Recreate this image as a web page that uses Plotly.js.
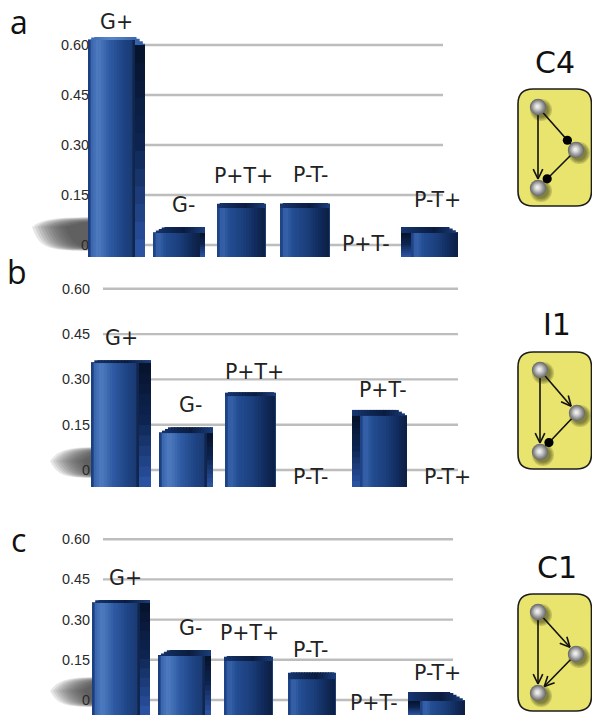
<!DOCTYPE html>
<html><head><meta charset="utf-8">
<script src="https://cdn.plot.ly/plotly-3.0.1.min.js"></script>
<style>html,body{margin:0;padding:0;background:#fff}</style></head>
<body><div id="chart" style="width:592px;height:715px"></div>
<script>
// ---- data ----
const categories = ['G+','G-','P+T+','P-T-','P+T-','P-T+'];
const valuesA = [0.624,0.054,0.126,0.126,0,0.054];
const valuesB = [0.364,0.142,0.258,0,0.199,0];
const valuesC = [0.373,0.187,0.164,0.104,0,0.030];
const tickVals = [0,0.15,0.30,0.45,0.60];
const tickText = ['0','0.15','0.30','0.45','0.60'];
const motifNames = ['C4','I1','C1'];
const panelLetters = ['a','b','c'];

// ---- layout geometry (pixels of the 592x715 page) ----
const W=592,H=715;
const px=x=>x/W, py=y=>1-y/H;
const panels=[
 {values:valuesA,x0:84.5,step:63,yBottom:257,yTop:30,zero:245,scale:333.3,axisX:90,gridL:103,gridR:443,
  outerL:[88,153,217,280,367,401],frontL:[88,153,217,280,367,411],frontR:[135,200,265,329,367,458],outerR:[145,205,266,330,367,458],
  cap:[3,6,5,5,0,6],sideDrop:[8,0,0,0,0,0],
  labels:[[116,22],[183,205],[243,176],[310,175],[366,244],[437,200]],
  shadow:[32,227,217,251],letter:[19,21],name:[555,63]},
 {values:valuesB,x0:89,step:64,yBottom:487,yTop:280,zero:470,scale:302,axisX:91,gridL:103,gridR:458,
  outerL:[91,159,225,313,352,444],frontL:[91,159,225,313,360,444],frontR:[139,207,275,313,407,444],outerR:[151,213,276,313,407,444],
  cap:[3,6,4,0,6,0],sideDrop:[0,0,0,0,0,0],
  labels:[[121,338],[190,405],[254,372],[310,477],[383,390],[447,477]],
  shadow:[50,461,447,478],letter:[17,271],name:[557,324]},
 {values:valuesC,x0:89.5,step:63,yBottom:715,yTop:530,zero:700,scale:268,axisX:91,gridL:103,gridR:453,
  outerL:[92,158,224,288,375,408],frontL:[92,158,224,288,375,420],frontR:[140,205,272,335,375,465],outerR:[150,211,273,336,375,465],
  cap:[3,6,5,7,0,9],sideDrop:[0,0,0,0,0,0],
  labels:[[125,578],[190,628],[249,633],[310,650],[374,703],[437,673]],
  shadow:[50,691,677,707],letter:[18,539],name:[557,567]}
];
const motifs=[
 {top:89,bottom:206,nodes:[[538,107],[576,150],[538,188]],edges:[[0,2,'arrow'],[0,1,'dot'],[1,2,'dot']]},
 {top:352,bottom:469,nodes:[[540,370],[577,413],[540,452]],edges:[[0,2,'arrow'],[0,1,'arrow'],[1,2,'dot']]},
 {top:594,bottom:711,nodes:[[538,612],[576,654],[538,693]],edges:[[0,2,'arrow'],[0,1,'arrow'],[1,2,'arrow']]}
];

// ---- colour ramps for the fake 3D bars ----
const hex=c=>[1,3,5].map(i=>parseInt(c.substr(i,2),16));
function ramp(stops,t){
  for(let i=1;i<stops.length;i++){ if(t<=stops[i][0]){
    const a=stops[i-1],b=stops[i],f=(t-a[0])/(b[0]-a[0]||1),A=hex(a[1]),B=hex(b[1]);
    return 'rgb('+A.map((v,k)=>Math.round(v+(B[k]-v)*f)).join(',')+')';}}
  return stops[stops.length-1][1];
}
const lightFront=[[0,'#1c3f80'],[0.06,'#3c68b0'],[0.2,'#4f7cc0'],[0.45,'#2f5ba4'],[0.75,'#1f4586'],[0.97,'#1a3a72'],[1,'#10264f']];
const darkFront=[[0,'#1e4488'],[0.08,'#3a66ae'],[0.25,'#234d92'],[0.55,'#1b3f7c'],[0.85,'#10295a'],[1,'#0e2145']];
const capRamp=[[0,'#16356f'],[0.35,'#0e2550'],[0.6,'#0b1c40'],[1,'#1a3c78']];
const capLight=[[0,'#3c68b0'],[0.4,'#5a86c8'],[1,'#2f5ba4']];
const sideRamp=[[0,'#07142e'],[0.45,'#0d2450'],[1,'#2a52a0']];

const traces=[],shapes=[],annotations=[],axes={};
const FRONT=18,BACK=18,SIDE=12;
panels.forEach((p,k)=>{
  const s=k?String(k+1):'';
  const low=(p.zero-p.yBottom)/p.scale, high=(p.zero-p.yTop)/p.scale;
  const centers=categories.map((c,i)=>p.x0+p.step*(i+0.5));
  const isLight=i=>i===0;
  const barBase=p.values.map(()=>low);
  // back layer: top cap (slanted where the box has a side face)
  for(let n=0;n<BACK;n++){
    const tops=p.values.map((v,i)=>{
      if(!(v>0)) return 0;
      const w=p.outerR[i]-p.outerL[i], x=p.outerL[i]+w*(n+0.5)/BACK;
      const slant=Math.max(p.cap[i]*1.8,1); let drop=0;
      if(p.outerR[i]>p.frontR[i]+1){            // side face on the right
        drop=p.cap[i]*Math.max(0,1-(x-p.outerL[i])/slant);
        if(x>p.frontR[i]) drop=Math.max(drop,p.sideDrop[i]*(x-p.frontR[i])/(p.outerR[i]-p.frontR[i]));
      } else if(p.frontL[i]>p.outerL[i]+1){     // side face on the left
        drop=p.cap[i]*Math.max(0,1-(p.outerR[i]-x)/slant);
      } else {
        drop=Math.max(0,2-Math.min(x-p.outerL[i],p.outerR[i]-x));
      }
      return v-drop/p.scale-low;
    });
    traces.push({type:'bar',xaxis:'x'+s,yaxis:'y'+s,x:categories,y:tops,base:barBase,
      width:categories.map((c,i)=>((p.outerR[i]-p.outerL[i])/BACK+(n<BACK-1?1:0))/p.step),
      offset:categories.map((c,i)=>(p.outerL[i]+(p.outerR[i]-p.outerL[i])*n/BACK-centers[i])/p.step),
      marker:{color:categories.map((c,i)=>ramp(k===0&&i===0?capLight:capRamp,n/(BACK-1))),line:{width:0}},hoverinfo:'skip',showlegend:false});
  }
  // side face: vertical gradient, built from bars of falling height
  for(let n=0;n<SIDE;n++){
    const f=1-n/SIDE;
    traces.push({type:'bar',xaxis:'x'+s,yaxis:'y'+s,x:categories,
      y:p.values.map((v,i)=>{
        const sw=(p.outerR[i]-p.frontR[i])+(p.frontL[i]-p.outerL[i]);
        if(!(v>0)||sw<2) return 0;
        return (v-Math.max(p.cap[i],p.sideDrop[i])/p.scale-low)*f;
      }),base:barBase,
      width:categories.map((c,i)=>((p.outerR[i]-p.frontR[i])+(p.frontL[i]-p.outerL[i]))/p.step),
      offset:categories.map((c,i)=>((p.frontL[i]>p.outerL[i]+1?p.outerL[i]:p.frontR[i])-centers[i])/p.step),
      marker:{color:ramp(sideRamp,n/(SIDE-1)),line:{width:0}},hoverinfo:'skip',showlegend:false});
  }
  // front face
  for(let n=0;n<FRONT;n++){
    traces.push({type:'bar',xaxis:'x'+s,yaxis:'y'+s,x:categories,
      y:p.values.map((v,i)=>v>0?v-p.cap[i]/p.scale-low:0),base:barBase,
      width:categories.map((c,i)=>((p.frontR[i]-p.frontL[i])/FRONT+(n<FRONT-1?1:0))/p.step),
      offset:categories.map((c,i)=>(p.frontL[i]+(p.frontR[i]-p.frontL[i])*n/FRONT-centers[i])/p.step),
      marker:{color:categories.map((c,i)=>ramp(isLight(i)||(k>0&&i===1)?lightFront:darkFront,n/(FRONT-1))),line:{width:0}},
      hoverinfo:'skip',showlegend:false});
  }
  // gridlines
  tickVals.forEach(t=>shapes.push({type:'line',layer:'below',xref:'paper',yref:'y'+s,
    x0:px(p.gridL),x1:px(p.gridR),y0:t,y1:t,line:{color:'#bdbdbd',width:2.4}}));
  // floor shadow behind the first bar
  const [sx,sy,st,sb]=p.shadow;
  const N=12;
  for(let n=0;n<N;n++){
    const f=n/N, l=sx+f*36;
    shapes.push({type:'path',layer:'below',xref:'paper',yref:'paper',
      path:`M${px(l)},${py(sy)} C${px(l+8)},${py(st+4+f*5)} ${px(l+14)},${py(st+f*5)} ${px(100)},${py(st+f*5)} L${px(100)},${py(sb-f*4)} C${px(l+14)},${py(sb-f*4)} ${px(l+8)},${py(sb-2-f*4)} ${px(l)},${py(sy)} Z`,
      fillcolor:'rgba(60,60,62,0.13)',line:{width:0}});
  }
  // value axis + hidden category axis
  axes['xaxis'+s]={domain:[px(p.x0),px(p.x0+6*p.step)],range:[-0.5,5.5],type:'category',categoryorder:'array',categoryarray:categories,
    showgrid:false,zeroline:false,showline:false,showticklabels:false,ticks:'',anchor:'y'+s,fixedrange:true};
  axes['yaxis'+s]={domain:[py(p.yBottom),py(p.yTop)],range:[low,high],tickvals:tickVals,ticktext:tickText,showgrid:false,zeroline:false,showline:false,
    ticks:'',anchor:'free',position:px(p.axisX-1),side:'left',tickfont:{family:'Liberation Sans, Arial, sans-serif',size:14.4,color:'#2a2a2a'},fixedrange:true};
  // bar captions
  categories.forEach((c,i)=>annotations.push({xref:'paper',yref:'paper',x:px(p.labels[i][0]),y:py(p.labels[i][1]),
    text:c,showarrow:false,xanchor:'center',yanchor:'middle',font:{family:'DejaVu Sans, sans-serif',size:20.5,color:'#222'}}));
  annotations.push({xref:'paper',yref:'paper',x:px(p.letter[0]),y:py(p.letter[1]),text:panelLetters[k],showarrow:false,
    xanchor:'center',yanchor:'middle',font:{family:'Open Sans, sans-serif',size:32,color:'#111'}});
  annotations.push({xref:'paper',yref:'paper',x:px(p.name[0]),y:py(p.name[1]),text:motifNames[k],showarrow:false,
    xanchor:'center',yanchor:'middle',font:{family:'DejaVu Sans, sans-serif',size:30,color:'#111'}});
});

// ---- motif icons ----
function circle(x,y,r,fill,op){
  shapes.push({type:'circle',xref:'paper',yref:'paper',x0:px(x-r),x1:px(x+r),y0:py(y+r),y1:py(y-r),fillcolor:fill,opacity:op==null?1:op,line:{width:0}});
}
function seg(a,b,c,d,w){
  shapes.push({type:'line',xref:'paper',yref:'paper',x0:px(a),y0:py(b),x1:px(c),y1:py(d),line:{color:'#111',width:w||1.6}});
}
motifs.forEach(m=>{
  const L=518,R=591.5,T=m.top,B=m.bottom,r=15;
  shapes.push({type:'path',xref:'paper',yref:'paper',
    path:`M${px(L+r)},${py(T)} L${px(R-r)},${py(T)} Q${px(R)},${py(T)} ${px(R)},${py(T+r)} L${px(R)},${py(B-r)} Q${px(R)},${py(B)} ${px(R-r)},${py(B)} L${px(L+r)},${py(B)} Q${px(L)},${py(B)} ${px(L)},${py(B-r)} L${px(L)},${py(T+r)} Q${px(L)},${py(T)} ${px(L+r)},${py(T)} Z`,
    fillcolor:'#e8e46e',line:{color:'#1c1c1c',width:1.6}});
  m.nodes.forEach(n=>{ for(let i=0;i<4;i++) circle(n[0]+3,n[1]+3,11-i*1.2,'#4a4a20',0.22); });
  m.edges.forEach(e=>{
    const a=m.nodes[e[0]],b=m.nodes[e[1]],dx=b[0]-a[0],dy=b[1]-a[1],d=Math.hypot(dx,dy),ux=dx/d,uy=dy/d;
    if(e[2]==='arrow'){
      const tx=b[0]-ux*9,ty=b[1]-uy*9;
      seg(a[0],a[1],tx,ty);
      [0.45,-0.45].forEach(t=>{
        const c=Math.cos(t),s=Math.sin(t),vx=-(ux*c-uy*s),vy=-(ux*s+uy*c);
        seg(tx,ty,tx+vx*11,ty+vy*11,1.6);
      });
    } else {
      seg(a[0],a[1],b[0],b[1]);
      circle(b[0]-ux*13,b[1]-uy*13,4.6,'#000');
    }
  });
  m.nodes.forEach(n=>{
    const ring=['#6f6f6f','#858585','#9a9a9a','#b0b0b0','#c6c6c6','#dadada','#ececec'];
    ring.forEach((c,i)=>circle(n[0]-i*0.1,n[1]-i*0.1,8.2-i*1.1,c));
  });
});

const layout=Object.assign({width:W,height:H,margin:{l:0,r:0,t:0,b:0},paper_bgcolor:'#fff',plot_bgcolor:'rgba(0,0,0,0)',
  barmode:'overlay',showlegend:false,shapes,annotations},axes);
Plotly.newPlot('chart',traces,layout,{displayModeBar:false,staticPlot:true});
</script></body></html>
